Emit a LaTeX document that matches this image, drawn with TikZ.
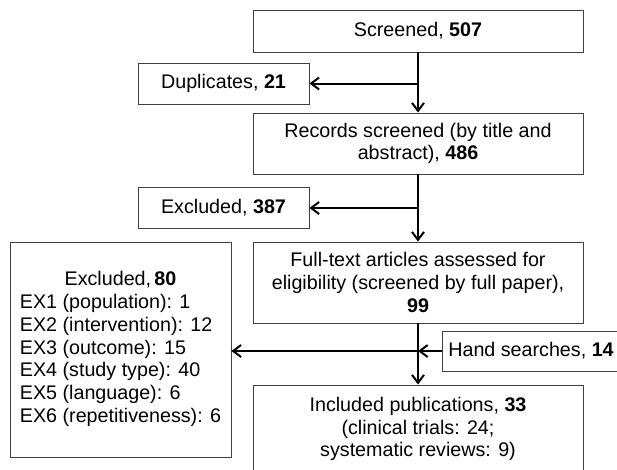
\documentclass[tikz,border=0pt]{standalone}
\usepackage{fontspec}
\setmainfont{Liberation Sans}
\usetikzlibrary{arrows.meta}

\begin{document}
\begin{tikzpicture}[x=1pt,y=-1pt,
	every node/.style = {draw=black!75, line width=0.9pt, align=center, inner sep=2pt,
		font=\fontsize{19.7}{22.7}\selectfont},
	stagebox/.style = {minimum width=330pt},
	sidebox/.style = {minimum width=171pt, minimum height=41pt},
	flow/.style = {line width=2pt, -{Straight Barb[length=8pt,width=12pt]}}]
\useasboundingbox (0,0) rectangle (617,469);
\node[stagebox, minimum height=42pt] (screened) at (418,31) {Screened, \textbf{507}};
\node[sidebox] (duplicates) at (223.5,83.5) {Duplicates, \textbf{21}};
\node[stagebox, minimum height=61pt] (records) at (418,143.5)
	{Records screened (by title and\\abstract), \textbf{486}};
\node[sidebox] (excluded) at (223.5,208) {Excluded, \textbf{387}};
\node[stagebox, minimum height=81pt] (fulltext) at (418,282.5)
	{Full-text articles assessed for\\eligibility (screened by full paper),\\\textbf{99}};
\node[minimum width=221pt, minimum height=215pt] (reasons) at (120.5,349.5)
	{\begin{tabular}{@{}l@{}}
	\multicolumn{1}{@{}c@{}}{Excluded,\,\textbf{80}}\\
	EX1 (population): 1\\
	EX2 (intervention): 12\\
	EX3 (outcome): 15\\
	EX4 (study type): 40\\
	EX5 (language): 6\\
	EX6 (repetitiveness): 6
	\end{tabular}};
\node[minimum width=178pt, minimum height=40pt] (hand) at (531,351) {Hand searches, \textbf{14}};
\node[stagebox, minimum height=88pt] (included) at (418,429)
	{Included publications, \textbf{33}\\(clinical trials: 24;\\systematic reviews: 9)};

\coordinate (split1) at (screened.south |- duplicates.east);
\coordinate (split2) at (records.south |- excluded.east);
\coordinate (split3) at (fulltext.south |- hand.west);

\draw[flow] (screened.south) -- (records.north);
\draw[flow] (split1) -- (duplicates.east);
\draw[flow] (records.south) -- (fulltext.north);
\draw[flow] (split2) -- (excluded.east);
\draw[flow] (fulltext.south) -- (included.north);
\draw[flow] (split3) -- (split3 -| reasons.east);
\draw[flow] (hand.west) -- (split3);
\end{tikzpicture}
\end{document}
